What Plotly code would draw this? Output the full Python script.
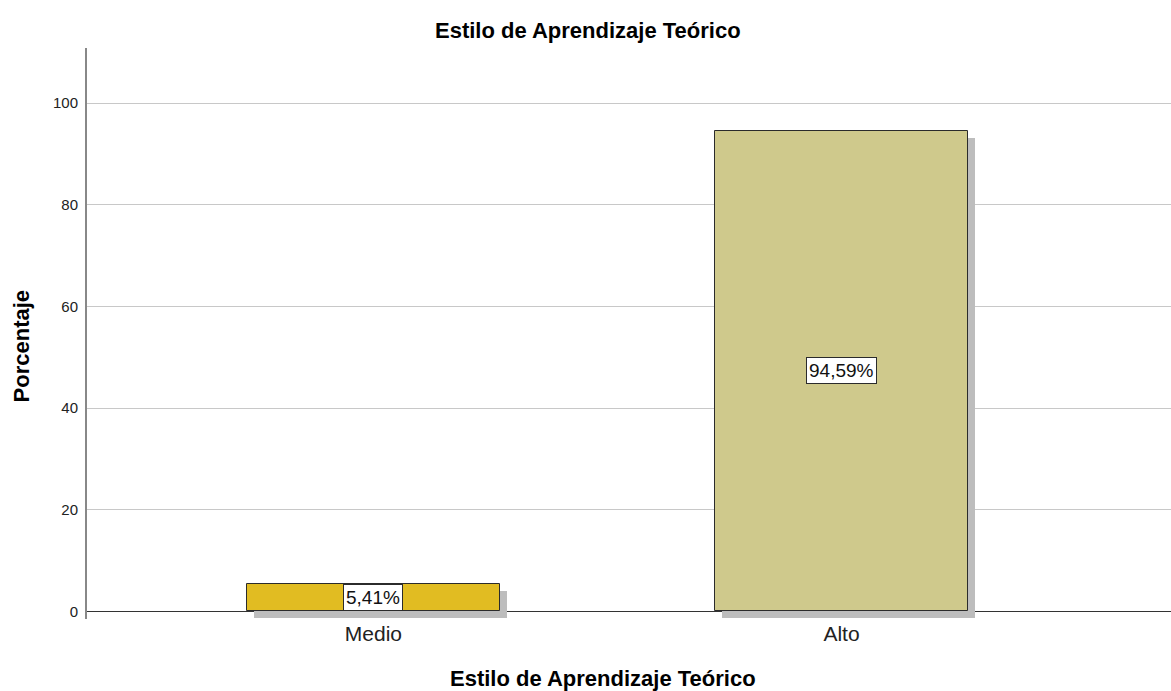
import plotly.graph_objects as go

categories = ['Medio', 'Alto']
percentages = [5.41, 94.59]
bar_colors = ['#E1BC22', '#CFC98C']
y_ticks = [0, 20, 40, 60, 80, 100]

x_pos = list(range(len(categories)))
shadow_dx = 0.015
shadow_dy = 1.4

fig = go.Figure()

# sombra gris detras de cada barra
fig.add_trace(go.Bar(x=[p + shadow_dx for p in x_pos],
                     y=percentages,
                     base=[-shadow_dy] * len(percentages),
                     width=0.54,
                     marker=dict(color='#BDBDBD', line=dict(width=0)),
                     hoverinfo='skip',
                     showlegend=False))

fig.add_trace(go.Bar(x=x_pos,
                     y=percentages,
                     width=0.54,
                     marker=dict(color=bar_colors,
                                 line=dict(color='#2b2b2b', width=1)),
                     hovertext=categories,
                     hoverinfo='text+y',
                     showlegend=False))

for p, v in zip(x_pos, percentages):
    fig.add_annotation(x=p, y=v / 2,
                       text=f'{v:.2f}%'.replace('.', ','),
                       showarrow=False,
                       font=dict(size=19, color='#111111'),
                       bgcolor='white',
                       bordercolor='#2b2b2b',
                       borderwidth=1,
                       borderpad=2)

title_font = dict(size=22, color='black')
fig.add_annotation(x=0.462, y=1.03, xref='paper', yref='paper',
                   xanchor='center', yanchor='middle',
                   text='<b>Estilo de Aprendizaje Teórico</b>',
                   showarrow=False, font=title_font)
fig.add_annotation(x=0.476, y=-0.104, xref='paper', yref='paper',
                   xanchor='center', yanchor='middle',
                   text='<b>Estilo de Aprendizaje Teórico</b>',
                   showarrow=False, font=title_font)
fig.add_annotation(x=-0.06, y=0.479, xref='paper', yref='paper',
                   xanchor='center', yanchor='middle',
                   text='<b>Porcentaje</b>', textangle=-90,
                   showarrow=False, font=title_font)

fig.update_xaxes(range=[-0.612, 1.704],
                 tickvals=x_pos, ticktext=categories,
                 tickfont=dict(size=21, color='#222222'),
                 ticks='', showgrid=False, showline=False,
                 zeroline=False)
fig.update_yaxes(range=[-shadow_dy - 0.1, 110.83],
                 tickvals=y_ticks,
                 tickfont=dict(size=15, color='#222222'),
                 showgrid=True, gridcolor='#C8C8C8', gridwidth=1,
                 zeroline=True, zerolinecolor='#333333', zerolinewidth=1,
                 showline=True, linecolor='#888888', linewidth=2,
                 ticks='', ticklabelstandoff=4)

fig.update_layout(width=1171, height=691,
                  margin=dict(l=87, r=0, t=48, b=72),
                  plot_bgcolor='white', paper_bgcolor='white',
                  font=dict(family='Liberation Sans, Arial, sans-serif'),
                  barmode='overlay', bargap=0)

fig.write_html('out.html', config={'displayModeBar': False},
               post_script="document.body.style.margin='0';")
